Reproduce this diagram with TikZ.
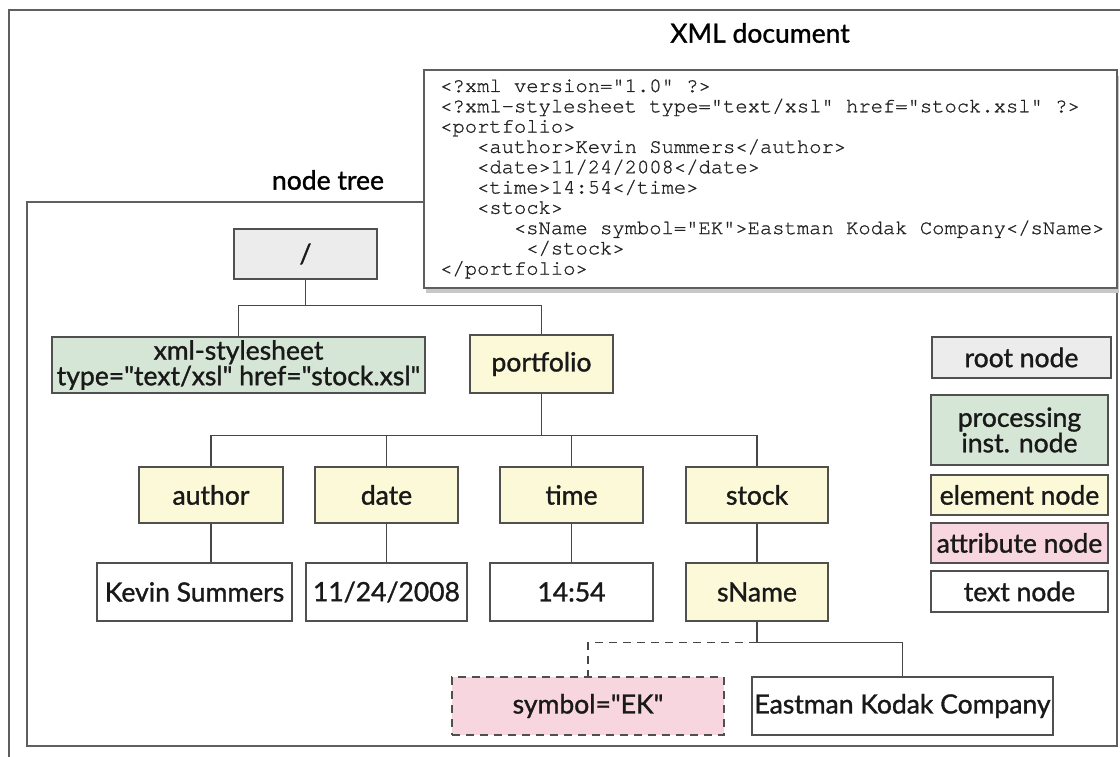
\documentclass[tikz,border=0pt]{standalone}
\usepackage{fontspec}
\setmainfont{Lato}[Ligatures=TeXOff]
\newfontfamily\treefamily{Lato}[Ligatures=TeXOff, FakeBold=1.2]
\newfontfamily\xmlfamily{TeX Gyre Cursor}[FakeBold=1]
\newcommand{\treefont}{\treefamily\fontsize{26.5}{25.5}\selectfont}
\newcommand{\xmlfont}{\xmlfamily\fontsize{20.5}{20.3}\selectfont}
\tikzstyle{treenode}=[
    rectangle,
    draw={rgb,255:red,80;green,80;blue,80},
    line width=1.4pt,
    inner sep=0pt,
    minimum height=56pt,
    align=center,
    text={rgb,255:red,25;green,25;blue,25},
    font=\treefont]
\tikzstyle{rootnode}=[treenode, fill={rgb,255:red,236;green,236;blue,236}]
\tikzstyle{pinode}=[treenode, fill={rgb,255:red,214;green,230;blue,214}]
\tikzstyle{elemnode}=[treenode, fill={rgb,255:red,252;green,249;blue,216}]
\tikzstyle{attrnode}=[treenode, fill={rgb,255:red,248;green,214;blue,224}]
\tikzstyle{textnode}=[treenode, fill=white]
\tikzstyle{branch}=[draw={rgb,255:red,70;green,70;blue,70}, line width=1.3pt]
\tikzstyle{frameline}=[draw={rgb,255:red,95;green,95;blue,95}, line width=1.4pt]
\tikzstyle{xmlline}=[anchor=base west, inner sep=0pt, font=\xmlfont, text={rgb,255:red,35;green,35;blue,35}]

\begin{document}
\begin{tikzpicture}[x=1pt,y=1pt,yscale=-1,xscale=1]
\useasboundingbox (0,0) rectangle (1120,757);

%Outer frame (cut at right and bottom)
\draw [frameline] (9,757) -- (9,10) -- (1120,10);
%Node tree frame
\draw [frameline] (27,202) rectangle (1117,746);
% Text Node
\node [font=\treefont] (treetitle) at (328,180) {node tree};

%XML document box with its shadow
\fill [fill={rgb,255:red,200;green,200;blue,200}] (426,76) rectangle (1119,293);
\draw [frameline, fill=white] (424,70) rectangle (1117,288);
% Text Node
\node [font=\treefont] (xmltitle) at (760,33) {XML document};
% Text Node
\node [xmlline] (xml1) at (440,92) {<?xml version="1.0" ?>};
\node [xmlline] (xml2) at (440,112.3) {<?xml-stylesheet type="text/xsl" href="stock.xsl" ?>};
\node [xmlline] (xml3) at (440,132.6) {<portfolio>};
\node [xmlline] (xml4) at (476.9,152.9) {<author>Kevin Summers</author>};
\node [xmlline] (xml5) at (476.9,173.2) {<date>11/24/2008</date>};
\node [xmlline] (xml6) at (476.9,193.5) {<time>14:54</time>};
\node [xmlline] (xml7) at (476.9,213.8) {<stock>};
\node [xmlline] (xml8) at (513.8,234.1) {<sName symbol="EK">Eastman Kodak Company</sName>};
\node [xmlline] (xml9) at (526.1,254.4) {</stock>};
\node [xmlline] (xml10) at (440,274.7) {</portfolio>};

%Tree nodes
\node [rootnode, minimum width=143pt, minimum height=50pt] (root) at (305.5,254) {/};
\node [pinode, minimum width=373pt] (pi) at (238.5,365) {xml-stylesheet\\type="text/xsl" href="stock.xsl"};
\node [elemnode, minimum width=143pt, minimum height=58pt] (portfolio) at (541.5,364) {portfolio};
\node [elemnode, minimum width=144pt] (author) at (211,495) {author};
\node [elemnode, minimum width=143pt] (date) at (386.5,495) {date};
\node [elemnode, minimum width=143pt] (time) at (571.5,495) {time};
\node [elemnode, minimum width=142pt] (stock) at (757,495) {stock};
\node [textnode, minimum width=195pt, minimum height=58pt] (kevin) at (194.5,592) {Kevin Summers};
\node [textnode, minimum width=161pt, minimum height=58pt] (datetext) at (386.5,592) {11/24/2008};
\node [textnode, minimum width=163pt, minimum height=58pt] (timetext) at (571.5,592) {14:54};
\node [elemnode, minimum width=142pt, minimum height=58pt] (sname) at (757,592) {sName};
\node [attrnode, dash pattern=on 8pt off 6pt, minimum width=272pt, minimum height=58pt] (symbol) at (588,706) {symbol="EK"};
\node [textnode, minimum width=301pt, minimum height=58pt] (company) at (902.5,706) {Eastman Kodak Company};

%Branches
\draw [branch] (root.south) -- ++(0,26) -| (pi.north);
\draw [branch] (root.south) -- ++(0,26) -| (portfolio.north);
\foreach \child in {author,date,time,stock}
  \draw [branch] (portfolio.south) -- ++(0,42) -| (\child.north);
\draw [branch] (author.south) -- (author.south |- kevin.north);
\draw [branch] (date.south) -- (datetext.north);
\draw [branch] (time.south) -- (timetext.north);
\draw [branch] (stock.south) -- (sname.north);
\draw [branch] (sname.south) -- ++(0,21) -| (company.north);
\draw [branch, dash pattern=on 8pt off 6pt] (sname.south) ++(0,21) -| (symbol.north);

%Legend
\node [rootnode, minimum width=179pt, minimum height=41pt] (legroot) at (1021.5,357.5) {root node};
\node [pinode, minimum width=177pt, minimum height=70pt] (legpi) at (1019.5,430) {processing\\inst. node};
\node [elemnode, minimum width=177pt, minimum height=40pt] (legelem) at (1019.5,495) {element node};
\node [attrnode, minimum width=177pt, minimum height=40pt] (legattr) at (1019.5,543) {attribute node};
\node [textnode, minimum width=177pt, minimum height=41pt] (legtext) at (1019.5,591.5) {text node};

\end{tikzpicture}
\end{document}
